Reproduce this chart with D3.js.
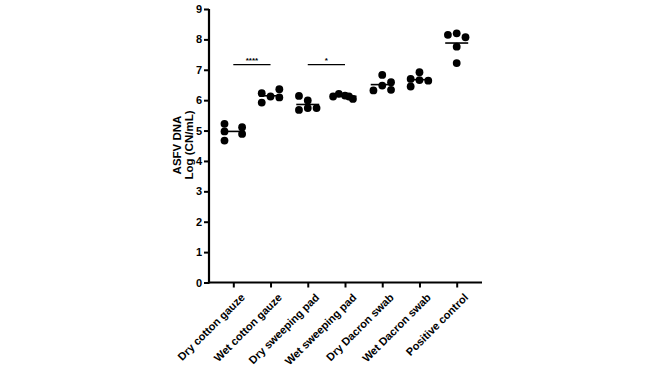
<!DOCTYPE html>
<html><head><meta charset="utf-8">
<script src="https://cdn.jsdelivr.net/npm/d3@7/dist/d3.min.js"></script>
<style>body{margin:0;background:#fff}svg{display:block}text{font-family:"Liberation Sans",Arial,sans-serif;font-weight:bold}</style>
</head><body>
<script>
const categories = ["Dry cotton gauze","Wet cotton gauze","Dry sweeping pad","Wet sweeping pad","Dry Dacron swab","Wet Dacron swab","Positive control"];
const values = [
  [5.22, 4.97, 4.67, 5.11, 4.89],
  [6.23, 5.92, 6.12, 6.36, 6.09],
  [6.14, 5.68, 5.99, 5.74, 5.74],
  [6.12, 6.21, 6.15, 6.12, 6.04],
  [6.32, 6.83, 6.48, 6.59, 6.34],
  [6.70, 6.45, 6.92, 6.66, 6.64],
  [8.15, 8.20, 8.07, 7.76, 7.22]
];
// horizontal jitter slot of each point, as in the scatter layout
const offsets = [
  [-1, -1, -1, 1, 1],
  [-1, -1, 0, 1, 1],
  [-1, -1, 0, 0, 1],
  [-1.35, -0.7, 0, 0.45, 0.9],
  [-1, 0, 0, 1, 1],
  [-1, -1, 0, 0, 1],
  [-1, 0, 1, 0, 0]
];
const yTicks = [0,1,2,3,4,5,6,7,8,9];
const sigBars = [{from:0,to:1,label:"****",y:7.17},{from:2,to:3,label:"*",y:7.17}];

const W=650,H=366;
const svg=d3.select("body").append("svg").attr("width",W).attr("height",H);
const x0=209, x1=482, yBase=282.5, yTop=9;
const y=d3.scaleLinear().domain([0,9]).range([yBase,yTop]);
const x=d3.scalePoint().domain(categories).range([233.3,456.7]);

// axes
const yAxis=d3.axisLeft(y).tickValues(yTicks).tickSize(5).tickPadding(2).tickFormat(d3.format("d"));
const gy=svg.append("g").attr("transform",`translate(${x0},0)`).call(yAxis);
gy.select(".domain").attr("stroke","#000").attr("stroke-width",2.2).attr("d",`M0,${yTop}V${yBase+1}`);
gy.selectAll(".tick line").attr("stroke","#000").attr("stroke-width",2);
gy.selectAll(".tick text").attr("font-size",11).attr("fill","#000");

const xAxis=d3.axisBottom(x).tickSize(5).tickPadding(3);
const gx=svg.append("g").attr("transform",`translate(0,${yBase})`).call(xAxis);
gx.select(".domain").attr("stroke","#000").attr("stroke-width",2.2).attr("d",`M${x0-1},0H${x1}`);
gx.selectAll(".tick line").attr("stroke","#000").attr("stroke-width",2);
gx.selectAll(".tick text").attr("font-size",11).attr("fill","#000")
  .attr("text-anchor","end").attr("dy","0")
  .attr("transform","translate(6,10) rotate(-45)");

// y label
const yl=svg.append("text").attr("transform",`translate(181,145) rotate(-90)`).attr("text-anchor","middle").attr("font-size",11.5).attr("fill","#000");
yl.append("tspan").attr("x",0).attr("dy",0).text("ASFV DNA");
yl.append("tspan").attr("x",0).attr("dy",11.5).text("Log (CN/mL)");

// points
const pts=[];
categories.forEach((c,i)=>values[i].forEach((v,j)=>pts.push({c,v,o:offsets[i][j]})));
svg.append("g").selectAll("circle").data(pts).join("circle")
  .attr("cx",d=>x(d.c)+d.o*8.8).attr("cy",d=>y(d.v)).attr("r",3.9).attr("fill","#000");

// mean lines
svg.append("g").selectAll("line").data(categories).join("line")
  .attr("x1",c=>x(c)-11.5).attr("x2",c=>x(c)+11.5)
  .attr("y1",(c,i)=>y(d3.mean(values[i]))).attr("y2",(c,i)=>y(d3.mean(values[i])))
  .attr("stroke","#000").attr("stroke-width",1.6);

// significance bars
const sg=svg.append("g");
sigBars.forEach(s=>{
  const xa=x(categories[s.from]), xb=x(categories[s.to]);
  sg.append("line").attr("x1",xa).attr("x2",xb).attr("y1",y(s.y)).attr("y2",y(s.y)).attr("stroke","#000").attr("stroke-width",1.4);
  sg.append("text").attr("x",(xa+xb)/2).attr("y",y(s.y)-2).attr("text-anchor","middle").attr("font-size",8).attr("fill","#000").text(s.label);
});
</script>
</body></html>
